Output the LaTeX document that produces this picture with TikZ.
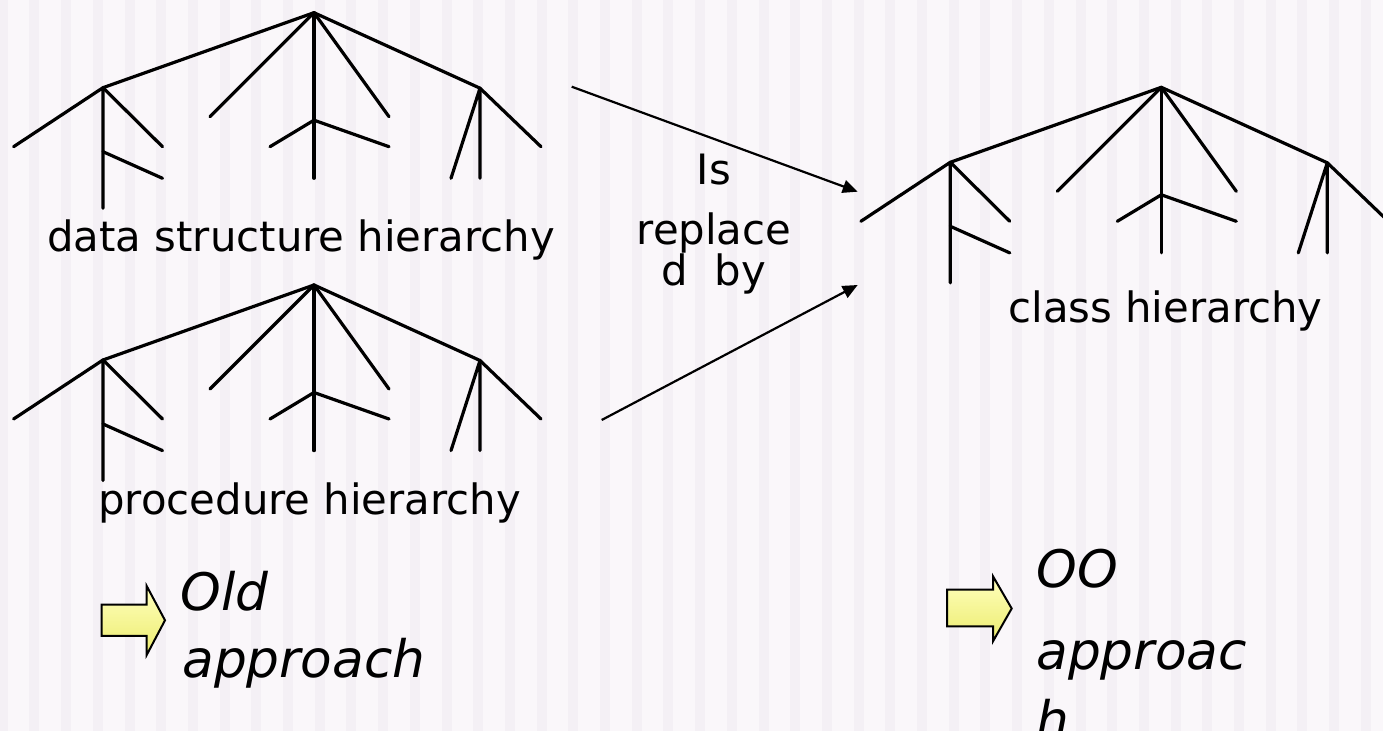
\documentclass[tikz,border=0pt]{standalone}
\usepackage{fontspec}
\setmainfont{DejaVu Sans}
\usetikzlibrary{arrows.meta}

\definecolor{bgbase}{RGB}{250,247,250}
\definecolor{bgband}{RGB}{244,240,245}
\definecolor{hintlight}{RGB}{255,255,190}
\definecolor{hintdark}{RGB}{236,236,110}

\tikzset{
  branch/.style={line width=1.6pt, line cap=round, line join=round},
  conn/.style={line width=1.1pt, -{Triangle[length=7.5pt,width=6.5pt]}},
  caption/.style={inner sep=0pt, anchor=base west, font=\fontsize{20.9pt}{24pt}\selectfont},
  midlabel/.style={inner sep=0pt, anchor=base, font=\fontsize{20.9pt}{24pt}\selectfont},
  approach/.style={inner sep=0pt, anchor=base west, font=\fontsize{25.85pt}{30pt}\selectfont\itshape},
  hintarrow/.style={draw=black, line width=1pt, line join=miter, top color=hintlight, bottom color=hintdark},
  % one hierarchy tree, drawn from its root downwards
  hier/.pic={
    \coordinate (-root) at (0,0);
    \coordinate (-a) at (-211,75);
    \coordinate (-c) at (166,75.5);
    \coordinate (-m) at (0,107.5);
    \coordinate (-s) at (-211,139);
    \draw[branch] (-a) -- (-root) -- (-c);
    \draw[branch] (-root) -- (0,165.6);
    \draw[branch] (-root) -- (-104,104);
    \draw[branch] (-root) -- (75,104);
    \draw[branch] (-44,134) -- (-m) -- (75,134);
    \draw[branch] (-300.4,134) -- (-a) -- (-211,195.6);
    \draw[branch] (-a) -- (-151.5,134);
    \draw[branch] (-s) -- (-151.5,165.6);
    \draw[branch] (137,165.6) -- (-c) -- (166,165.6);
    \draw[branch] (-c) -- (227,134);
  }
}

\begin{document}
\begin{tikzpicture}[x=0.5pt,y=-0.5pt]
  \useasboundingbox (0,0) rectangle (1383,731);
  \clip (0,0) rectangle (1383,731);

  % striped backdrop
  \fill[bgbase] (0,0) rectangle (1383,731);
  \foreach \k in {-1,...,44}{
    \fill[bgband] ({29.4+31.7*\k},0) rectangle ({39.4+31.7*\k},731);
  }

  % the three hierarchies
  \pic (ds) at (314,12.7) {hier};
  \pic (pr) at (314,285) {hier};
  \pic (cl) at (1161.3,87.3) {hier};

  % captions
  \node[caption] (dslabel) at (47,252) {data structure hierarchy};
  \node[caption] (prlabel) at (98,515) {procedure hierarchy};
  \node[caption] (cllabel) at (1008,323) {class hierarchy};

  % "Is replaced by" connectors
  \coordinate (dsout) at (571.7,86.7);
  \coordinate (prout) at (601.7,420);
  \coordinate (clin1) at (857.7,191.7);
  \coordinate (clin2) at (857.7,285);
  \draw[conn] (dsout) -- (clin1);
  \draw[conn] (prout) -- (clin2);
  \node[midlabel] (rep1) at (714,185) {Is};
  \node[midlabel] (rep2) at (714,245) {replace};
  \node[midlabel] (rep3) at (714,286) {d\ \ by};

  % old approach marker
  \draw[hintarrow] (101.7,604.7) -- (146.7,604.7) -- (146.7,586) -- (165,620.3)
    -- (146.7,655) -- (146.7,636) -- (101.7,636) -- cycle;
  \node[approach] (old1) at (180,611) {Old};
  \node[approach] (old2) at (182,678) {approach};

  % object-oriented approach marker
  \draw[hintarrow] (947,589.7) -- (993,589.7) -- (993,576.3) -- (1011.7,608.5)
    -- (993,641.3) -- (993,626.3) -- (947,626.3) -- cycle;
  \node[approach] (oo1) at (1036,588) {OO};
  \node[approach] (oo2) at (1036,670) {approac};
  \node[approach] (oo3) at (1036,739) {h};
\end{tikzpicture}
\end{document}
